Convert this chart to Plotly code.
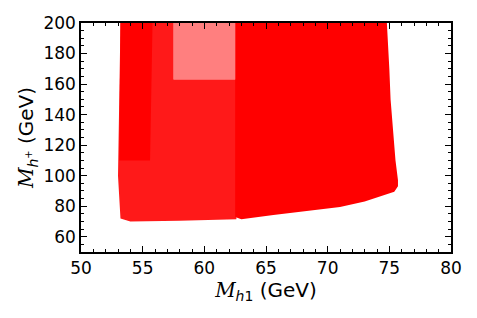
import plotly.graph_objects as go

# Boundaries of the point clouds (M_h1, M_h+ in GeV)
main_x = [62.5, 63.0, 65.6, 68.0, 71.0, 73.0, 74.2, 75.0, 75.4, 75.7, 75.7, 75.5, 75.3, 75.1, 75.0, 74.9, 74.8, 62.5]
main_y = [73.0, 71.5, 74.2, 76.5, 79.5, 83.0, 86.0, 88.0, 89.5, 93.0, 97.0, 110.0, 130.0, 150.0, 170.0, 185.0, 200.0, 200.0]

left_x = [53.2, 53.0, 53.2, 54.0, 58.0, 62.6, 62.6, 57.5, 57.5, 53.2]
left_y = [200.0, 100.0, 72.0, 70.0, 70.5, 71.5, 163.0, 163.0, 200.0, 200.0]

strip_x = [53.2, 53.1, 55.6, 55.8, 53.2]
strip_y = [200.0, 110.0, 110.0, 200.0, 200.0]

gap_x = [57.5, 62.5, 62.5, 57.5, 57.5]
gap_y = [163.0, 163.0, 200.0, 200.0, 163.0]

x_ticks = [50, 55, 60, 65, 70, 75, 80]
y_ticks = [60, 80, 100, 120, 140, 160, 180, 200]

fig = go.Figure()

def region(xs, ys, color):
    fig.add_trace(go.Scatter(x=xs, y=ys, mode="lines", fill="toself",
                             fillcolor=color, line=dict(width=0, color=color),
                             hoverinfo="skip", showlegend=False))

region(left_x, left_y, "rgba(255,0,0,0.9)")
region(gap_x, gap_y, "rgba(255,0,0,0.5)")
region(strip_x, strip_y, "rgba(255,0,0,1)")
region(main_x, main_y, "rgba(255,0,0,1)")

axis_common = dict(
    showgrid=False, zeroline=False, showline=True, linecolor="black", linewidth=1.5,
    mirror="ticks", ticks="inside", ticklen=6, tickwidth=1, tickcolor="black",
    tickfont=dict(family="DejaVu Sans", size=17, color="black"), automargin=False,
)

fig.update_xaxes(range=[50, 80], tickvals=x_ticks, ticktext=[str(v) for v in x_ticks],
                 minor=dict(dtick=1, ticks="inside", ticklen=3, tickcolor="black"),
                 title=dict(text="<span style='font-family:DejaVu Serif'><i>M</i></span><sub><i>h</i>1</sub> (GeV)",
                            font=dict(family="DejaVu Sans", size=20, color="black"), standoff=2),
                 **axis_common)
fig.update_yaxes(range=[50, 200], tickvals=y_ticks, ticktext=[str(v) for v in y_ticks],
                 minor=dict(dtick=5, ticks="inside", ticklen=3, tickcolor="black"),
                 title=dict(text="<span style='font-family:DejaVu Serif'><i>M</i></span><sub><i>h</i><sup>+</sup></sub> (GeV)",
                            font=dict(family="DejaVu Sans", size=20, color="black"), standoff=4),
                 **axis_common)

fig.update_layout(width=477, height=318, margin=dict(l=73, r=34, t=15, b=74),
                  plot_bgcolor="white", paper_bgcolor="white")

fig.write_html("out.html")
